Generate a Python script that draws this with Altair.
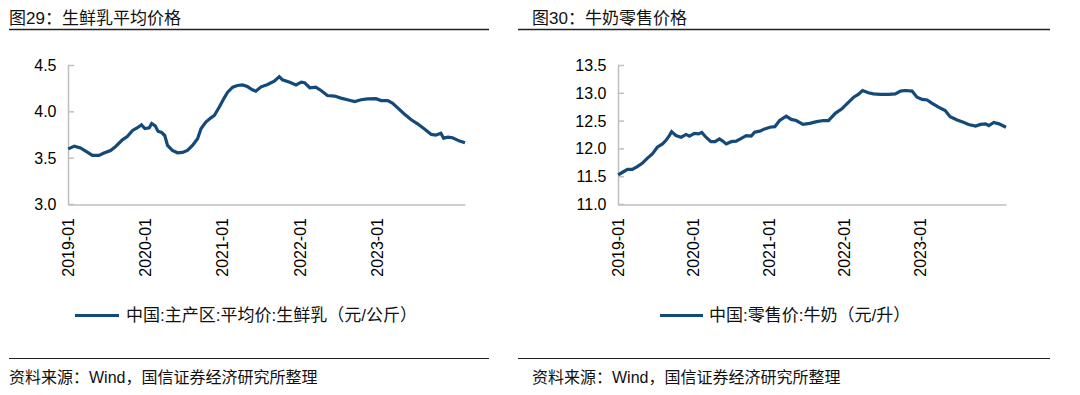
import altair as alt
import pandas as pd

# ---------------- data ----------------
left_dates = [
    "2019-01-02", "2019-01-31", "2019-03-01", "2019-04-02", "2019-04-26", "2019-05-27",
    "2019-06-20", "2019-07-21", "2019-08-14", "2019-09-15", "2019-10-08", "2019-11-02",
    "2019-11-25", "2019-12-14", "2019-12-30", "2020-01-20", "2020-01-31", "2020-02-17",
    "2020-03-01", "2020-03-18", "2020-04-02", "2020-04-15", "2020-05-08", "2020-06-01",
    "2020-06-25", "2020-07-18", "2020-08-11", "2020-09-04", "2020-09-20", "2020-10-13",
    "2020-11-06", "2020-11-22", "2020-12-15", "2021-01-08", "2021-01-24", "2021-02-17",
    "2021-03-11", "2021-04-04", "2021-04-27", "2021-05-21", "2021-06-06", "2021-07-01",
    "2021-08-01", "2021-09-01", "2021-09-25", "2021-10-10", "2021-11-13", "2021-12-13",
    "2022-01-07", "2022-01-22", "2022-02-16", "2022-03-16", "2022-04-10", "2022-05-10",
    "2022-06-13", "2022-07-13", "2022-08-13", "2022-09-16", "2022-10-16", "2022-11-16",
    "2022-12-25", "2023-01-19", "2023-02-19", "2023-03-13", "2023-04-07", "2023-05-07",
    "2023-06-10", "2023-07-10", "2023-08-10", "2023-09-13", "2023-10-04", "2023-10-28",
    "2023-11-10", "2023-12-01", "2023-12-22", "2024-01-25", "2024-02-19",
]
left_values = [
    3.60, 3.63, 3.61, 3.565, 3.53, 3.53,
    3.555, 3.583, 3.626, 3.698, 3.734, 3.799,
    3.828, 3.860, 3.82, 3.828, 3.874, 3.849,
    3.79, 3.777, 3.745, 3.637, 3.583, 3.558,
    3.562, 3.583, 3.637, 3.709, 3.817, 3.889,
    3.935, 3.961, 4.05, 4.151, 4.212, 4.266,
    4.284, 4.291, 4.273, 4.238, 4.223, 4.27,
    4.295, 4.33, 4.38, 4.345, 4.32, 4.29,
    4.32, 4.315, 4.26, 4.266, 4.23, 4.176,
    4.17, 4.148, 4.13, 4.11, 4.13, 4.14,
    4.142, 4.122, 4.122, 4.094, 4.043, 3.979,
    3.914, 3.871, 3.817, 3.756, 3.748, 3.77,
    3.716, 3.727, 3.72, 3.684, 3.666,
]

right_dates = [
    "2019-01-02", "2019-01-23", "2019-02-16", "2019-03-11", "2019-04-04", "2019-04-28",
    "2019-05-22", "2019-06-16", "2019-07-10", "2019-08-04", "2019-08-20", "2019-09-06",
    "2019-09-17", "2019-10-08", "2019-11-02", "2019-11-26", "2019-12-12", "2020-01-05",
    "2020-01-25", "2020-02-10", "2020-03-01", "2020-03-25", "2020-04-14", "2020-05-05",
    "2020-05-21", "2020-06-07", "2020-07-01", "2020-07-25", "2020-08-19", "2020-09-12",
    "2020-10-06", "2020-10-22", "2020-11-16", "2020-12-10", "2021-01-04", "2021-01-28",
    "2021-02-20", "2021-03-24", "2021-04-17", "2021-05-11", "2021-06-13", "2021-07-16",
    "2021-08-18", "2021-09-20", "2021-10-14", "2021-11-16", "2021-12-18", "2022-01-11",
    "2022-02-13", "2022-03-07", "2022-03-28", "2022-04-25", "2022-05-19", "2022-06-21",
    "2022-08-01", "2022-09-02", "2022-09-27", "2022-10-20", "2022-11-22", "2022-12-16",
    "2023-01-10", "2023-02-03", "2023-02-27", "2023-03-30", "2023-05-01", "2023-05-25",
    "2023-06-28", "2023-07-28", "2023-08-22", "2023-09-25", "2023-10-19", "2023-11-13",
    "2023-11-28", "2023-12-22", "2024-01-16", "2024-02-19",
]
right_values = [
    11.534, 11.58, 11.63, 11.63, 11.68, 11.74,
    11.83, 11.91, 12.03, 12.09, 12.15, 12.24,
    12.31, 12.24, 12.21, 12.26, 12.23, 12.28,
    12.27, 12.295, 12.21, 12.13, 12.13, 12.18,
    12.14, 12.09, 12.13, 12.14, 12.19, 12.24,
    12.23, 12.30, 12.32, 12.36, 12.39, 12.40,
    12.51, 12.59, 12.53, 12.51, 12.44, 12.46,
    12.49, 12.51, 12.51, 12.64, 12.72, 12.81,
    12.93, 12.98, 13.05, 13.01, 12.99, 12.98,
    12.98, 12.99, 13.04, 13.05, 13.04, 12.93,
    12.89, 12.88, 12.82, 12.75, 12.69, 12.58,
    12.52, 12.48, 12.44, 12.41, 12.44, 12.45,
    12.42, 12.475, 12.45, 12.39,
]

left_yticks = [3.0, 3.5, 4.0, 4.5]
right_yticks = [11.0, 11.5, 12.0, 12.5, 13.0, 13.5]
x_tick_years = [2019, 2020, 2021, 2022, 2023]

left_title = "图29：生鲜乳平均价格"
right_title = "图30：牛奶零售价格"
left_legend = "中国:主产区:平均价:生鲜乳（元/公斤）"
right_legend = "中国:零售价:牛奶（元/升）"
source_text = "资料来源：Wind，国信证券经济研究所整理"

# ---------------- style ----------------
LINE_COLOR = "#134a7a"
AXIS_COLOR = "#bfbfbf"
TEXT_FONT = "Liberation Sans, Noto Sans CJK SC"
LATIN = "Liberation Sans"
PLOT_H = 139


def text_layer(txt, x, y, size):
    return alt.Chart(pd.DataFrame({"t": [txt]})).mark_text(
        align="left", baseline="middle", font=TEXT_FONT, fontSize=size, color="#111111"
    ).encode(text="t:N", x=alt.value(x), y=alt.value(y))


def hrule(x1, x2, y, width, color):
    return alt.Chart(pd.DataFrame({"k": [0]})).mark_rule(
        color=color, strokeWidth=width
    ).encode(x=alt.value(x1), x2=alt.value(x2), y=alt.value(y))


def panel(dates, values, width, yticks, title, legend, rule_x1, rule_x2, text_x,
          legend_x1, legend_x2, legend_tx):
    df = pd.DataFrame({"date": dates, "value": values})
    x_enc = alt.X(
        "date:T",
        title=None,
        scale=alt.Scale(
            type="utc",
            nice=False,
            domain=[alt.DateTime(year=2019, month=1, date=1, utc=True),
                    alt.DateTime(year=2024, month=2, date=19, utc=True)],
        ),
        axis=alt.Axis(
            values=[alt.DateTime(year=y, month=1, date=1, utc=True) for y in x_tick_years],
            format="%Y-%m",
            labelAngle=-90,
            labelFont=LATIN,
            labelFontSize=16,
            labelColor="#000000",
            labelPadding=13,
            labelOverlap=False,
            ticks=False,
            tickSize=0,
            grid=False,
            domainColor=AXIS_COLOR,
            domainWidth=1.5,
        ),
    )
    y_scale = alt.Scale(domain=[yticks[0], yticks[-1]], nice=False, zero=False)
    y_axis = alt.Axis(
        values=yticks,
        format=".1f",
        labelFont=LATIN,
        labelFontSize=16,
        labelColor="#000000",
        labelPadding=12,
        labelOverlap=False,
        ticks=False,
        tickSize=0,
        grid=False,
        domainColor=AXIS_COLOR,
        domainWidth=1.5,
    )
    line = alt.Chart(df).mark_line(color=LINE_COLOR, strokeWidth=3.2).encode(
        x=x_enc, y=alt.Y("value:Q", title=None, scale=y_scale, axis=y_axis)
    )

    tick_df = pd.DataFrame({"value": yticks})
    inner_ticks = alt.Chart(tick_df).mark_rule(color=AXIS_COLOR, strokeWidth=1.5).encode(
        y=alt.Y("value:Q", title=None, scale=y_scale, axis=y_axis),
        x=alt.value(0),
        x2=alt.value(6),
    )

    layers = [
        line,
        inner_ticks,
        text_layer(title, text_x, -46.5, 17),
        hrule(rule_x1, rule_x2, -36, 1.5, "#222222"),
        hrule(legend_x1, legend_x2, 250, 3, LINE_COLOR),
        text_layer(legend, legend_tx, 250, 17),
        hrule(rule_x1, rule_x2, 293, 1.2, "#222222"),
        text_layer(source_text, text_x, 312, 16),
    ]
    return alt.layer(*layers).properties(width=width, height=PLOT_H)


left = panel(left_dates, left_values, 397, left_yticks, left_title, left_legend,
             -59, 421, -59, 7, 51, 58)
right = panel(right_dates, right_values, 388, right_yticks, right_title, right_legend,
              -100, 432, -86, 42, 85, 91)

chart = alt.hconcat(left, right, spacing=27).properties(
    padding={"left": 0, "top": 1.5, "right": 0, "bottom": 4}
).configure_view(strokeWidth=0)

chart.save("out.html", embed_options={"renderer": "svg", "actions": False})
